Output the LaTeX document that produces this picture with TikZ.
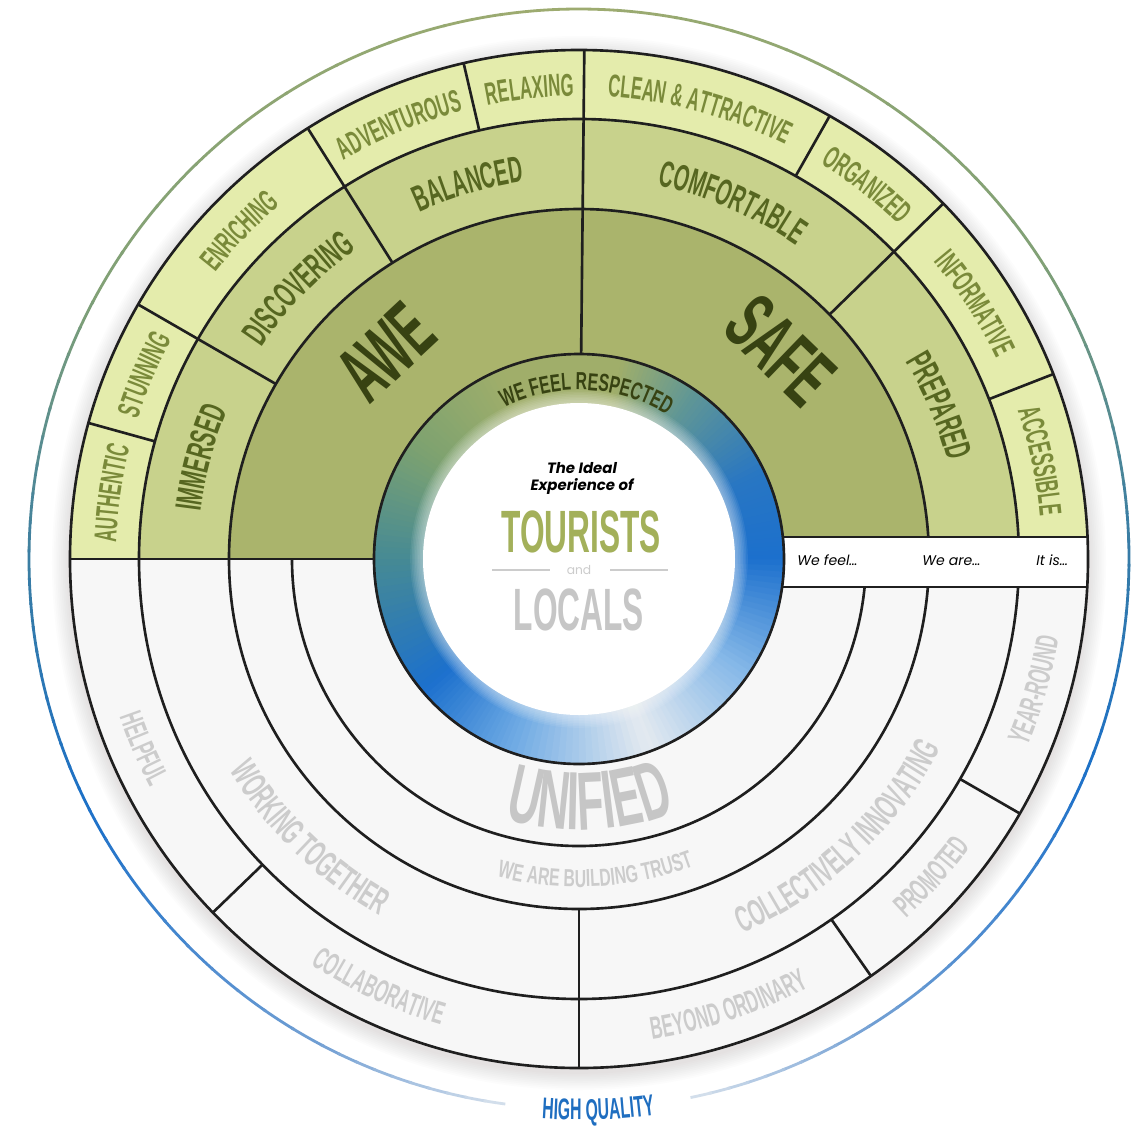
\documentclass[tikz,border=0pt]{standalone}
\usepackage{fontspec}
\usetikzlibrary{decorations.text}
\setmainfont{Liberation Sans}
\newfontfamily\narrowfont[FakeStretch=0.53]{Liberation Sans}
\newfontfamily\looserfont[FakeStretch=0.64]{Liberation Sans}
\newfontfamily\roundfont{Poppins}

\definecolor{leafdark}{RGB}{170,180,108}
\definecolor{leafmid}{RGB}{200,210,140}
\definecolor{leaflight}{RGB}{228,236,172}
\definecolor{inkdark}{RGB}{55,66,18}
\definecolor{inkmid}{RGB}{86,102,32}
\definecolor{inklight}{RGB}{122,138,58}
\definecolor{mist}{RGB}{247,247,247}
\definecolor{inkgrey}{RGB}{204,204,204}
\definecolor{unifiedgrey}{RGB}{198,198,198}
\definecolor{tourgreen}{RGB}{163,176,90}
\definecolor{qualityblue}{RGB}{31,110,192}
\definecolor{shadowtone}{RGB}{150,140,130}
% halo colours, from the top down to the gap
\definecolor{haloA}{RGB}{158,172,112}
\definecolor{haloB}{RGB}{128,160,118}
\definecolor{haloC}{RGB}{55,124,165}
\definecolor{haloD}{RGB}{28,112,200}
\definecolor{haloE}{RGB}{115,160,212}
\definecolor{haloF}{RGB}{215,225,236}
% colours round the inner ring
\definecolor{ringW}{RGB}{228,234,240}
\definecolor{ringL}{RGB}{135,185,232}
\definecolor{ringB}{RGB}{28,112,205}
\definecolor{ringBB}{RGB}{40,118,195}
\definecolor{ringT}{RGB}{95,150,150}
\definecolor{ringO}{RGB}{160,174,106}
\definecolor{ringG}{RGB}{125,162,112}
\definecolor{ringTT}{RGB}{70,138,148}
\definecolor{ringLL}{RGB}{110,170,228}

\newcommand\outerink{\narrowfont\bfseries\fontsize{18}{20}\selectfont\color{inklight}}
\newcommand\midink{\narrowfont\bfseries\fontsize{21}{24}\selectfont\color{inkmid}}
\newcommand\respectink{\looserfont\bfseries\fontsize{14}{16}\selectfont\color{inkdark}}
\newcommand\greyink{\narrowfont\bfseries\fontsize{18}{20}\selectfont\color{inkgrey}}
\newcommand\greymidink{\narrowfont\bfseries\fontsize{21}{24}\selectfont\color{inkgrey}}
\newcommand\trustink{\looserfont\bfseries\fontsize{14}{16}\selectfont\color{inkgrey}}
\newcommand\unifiedink{\narrowfont\bfseries\fontsize{47}{50}\selectfont\color{unifiedgrey}}
\newcommand\qualityink{\narrowfont\bfseries\fontsize{17}{20}\selectfont\color{qualityblue}}

% text on an arc: radius, middle angle, format, text
\newcommand\uparc[4]{\path[decorate,decoration={text along path,text align=center,text={|#3|#4}}]
  (#2+30:#1) arc[start angle=#2+30,end angle=#2-30,radius=#1];}
\newcommand\downarc[4]{\path[decorate,decoration={text along path,text align=center,text={|#3|#4}}]
  (#2-30:#1) arc[start angle=#2-30,end angle=#2+30,radius=#1];}

\begin{document}
\begin{tikzpicture}[x=0.02cm,y=0.02cm,
  rule/.style={line width=1.5pt,black!88},
  bigword/.style={font=\narrowfont\bfseries\fontsize{46}{50}\selectfont,text=inkdark,inner sep=0pt},
  bandtext/.style={font=\roundfont\itshape\fontsize{8}{10}\selectfont,anchor=base west,inner sep=0pt},
  idealtext/.style={font=\roundfont\bfseries\itshape\fontsize{8.5}{10}\selectfont,anchor=base,inner sep=0pt},
  heading/.style={font=\narrowfont\bfseries\fontsize{34}{36}\selectfont,inner sep=0pt}]
\useasboundingbox (-579,-568) rectangle (559,559);
\fill[white] (-579,-568) rectangle (559,559);

% soft shadow and the thin halo round the wheel
\foreach \i in {1,...,10}
  \fill[shadowtone,opacity=0.025] (0,-4) circle[radius=509+1.8*\i];
\foreach \da/\db/\ca/\cb in {0/60/haloA/haloB,60/90/haloB/haloC,90/115/haloC/haloD,115/150/haloD/haloE,150/170/haloE/haloF}{
  \foreach \t in {0,...,9}{
    \pgfmathsetmacro\hstart{\da+(\db-\da)*\t/10}
    \pgfmathsetmacro\hstep{(\db-\da)/10+0.3}
    \pgfmathtruncatemacro\mixp{10*\t+5}
    \draw[line width=1.6pt,\cb!\mixp!\ca] (92+\hstart:550) arc[start angle=92+\hstart,delta angle=\hstep,radius=550];
    \draw[line width=1.6pt,\cb!\mixp!\ca] (92-\hstart:550) arc[start angle=92-\hstart,delta angle=-\hstep,radius=550];
  }
}

% fills
\fill[leaflight] (0:509) arc[start angle=0,end angle=180,radius=509] -- cycle;
\fill[leafmid] (0:440) arc[start angle=0,end angle=180,radius=440] -- cycle;
\fill[leafdark] (0:350) arc[start angle=0,end angle=180,radius=350] -- cycle;
\fill[mist] (180:509) arc[start angle=180,end angle=360,radius=509] -- cycle;
\fill[white] (150,-28) rectangle (508.5,22);

% inner ring
\foreach \ra/\rb/\ca/\cb in {-70/-35/ringW/ringL,-35/0/ringL/ringB,0/25/ringB/ringBB,25/55/ringBB/ringT,55/78/ringT/ringO,78/112/ringO/ringO,112/145/ringO/ringG,145/180/ringG/ringTT,180/220/ringTT/ringB,220/250/ringB/ringLL,250/290/ringLL/ringW}{
  \foreach \t in {0,...,19}{
    \pgfmathsetmacro\wa{\ra+(\rb-\ra)*\t/20}
    \pgfmathsetmacro\wb{\wa+(\rb-\ra)/20+0.4}
    \pgfmathtruncatemacro\mixp{5*\t+2}
    \fill[\cb!\mixp!\ca] (\wa:155) arc[start angle=\wa,end angle=\wb,radius=155]
      -- (\wb:206) arc[start angle=\wb,end angle=\wa,radius=206] -- cycle;
  }
}
\foreach \i in {1,...,8}
  \fill[white,opacity=0.07] (0,0) circle[radius=156+1.6*\i];
\fill[white] (0,0) circle[radius=156];

% rings and dividers
\draw[rule] (0,0) circle[radius=509];
\draw[rule] (0,0) circle[radius=205];
\foreach \r in {350,440}{
  \pgfmathsetmacro\sa{asin(22/\r)}
  \draw[rule] (\sa:\r) arc[start angle=\sa,end angle=180,radius=\r];
}
\foreach \r in {287,350,440}{
  \pgfmathsetmacro\sa{360-asin(28/\r)}
  \draw[rule] (180:\r) arc[start angle=180,end angle=\sa,radius=\r];
}
\draw[rule] (203.8,22) -- (508.5,22);
\draw[rule] (203.1,-28) -- (508.2,-28);
\draw[rule] (180:205) -- (180:509);
\draw[rule] (89.4:205) -- (89.4:509);
\foreach \a in {150,122.2,44.3}
  \draw[rule] (\a:350) -- (\a:509);
\foreach \a in {164.5,103.1,60.5,21.3}
  \draw[rule] (\a:440) -- (\a:509);
\draw[rule] (270:350) -- (270:509);
\foreach \a in {224,305,330}
  \draw[rule] (\a:440) -- (\a:509);

% upper half
\node[bigword,rotate=43] (awe) at (133:283) {AWE};
\node[bigword,rotate=-44] (safe) at (46:290) {SAFE};
\uparc{463}{172}{\outerink}{AUTHENTIC}
\uparc{463}{157}{\outerink}{STUNNING}
\uparc{463}{136}{\outerink}{ENRICHING}
\uparc{463}{112.5}{\outerink}{ADVENTUROUS}
\uparc{463}{96}{\outerink}{RELAXING}
\uparc{463}{75}{\outerink}{CLEAN {\&} ATTRACTIVE}
\uparc{463}{52.4}{\outerink}{ORGANIZED}
\uparc{463}{32.8}{\outerink}{INFORMATIVE}
\uparc{463}{12}{\outerink}{ACCESSIBLE}
\uparc{381.5}{165}{\midink}{IMMERSED}
\uparc{381.5}{136}{\midink}{DISCOVERING}
\uparc{381.5}{106.5}{\midink}{BALANCED}
\uparc{381.5}{66.7}{\midink}{COMFORTABLE}
\uparc{381.5}{23}{\midink}{PREPARED}
\uparc{169}{87.4}{\respectink}{WE FEEL RESPECTED}

% lower half
\downarc{271}{272.5}{\unifiedink}{UNIFIED}
\downarc{328}{273}{\trustink}{WE ARE BUILDING TRUST}
\downarc{408.5}{226}{\greymidink}{WORKING TOGETHER}
\downarc{408.5}{313}{\greymidink}{COLLECTIVELY INNOVATING}
\downarc{486}{203.5}{\greyink}{HELPFUL}
\downarc{486}{245}{\greyink}{COLLABORATIVE}
\downarc{486}{288.5}{\greyink}{BEYOND ORDINARY}
\downarc{486}{318}{\greyink}{PROMOTED}
\downarc{486}{344}{\greyink}{YEAR-ROUND}
\downarc{561}{272}{\qualityink}{HIGH QUALITY}

% band
\node[bandtext] (feel) at (218,-6) {We feel…};
\node[bandtext] (are) at (343,-6) {We are…};
\node[bandtext] (itis) at (457,-6) {It is…};

% centre
\node[idealtext] (ideal) at (3,86) {The Ideal};
\node[idealtext] (experience) at (3,69) {Experience of};
\node[heading,text=tourgreen] (tourists) at (2,27.5) {TOURISTS};
\node[font=\roundfont\fontsize{7}{8}\selectfont,text=inkgrey,inner sep=0pt] (and) at (0,-11) {and};
\draw[line width=1.6pt,inkgrey] (-87,-11) -- (-29,-11);
\draw[line width=1.6pt,inkgrey] (31,-11) -- (89,-11);
\node[heading,text=unifiedgrey] (locals) at (0,-51) {LOCALS};
\end{tikzpicture}
\end{document}
